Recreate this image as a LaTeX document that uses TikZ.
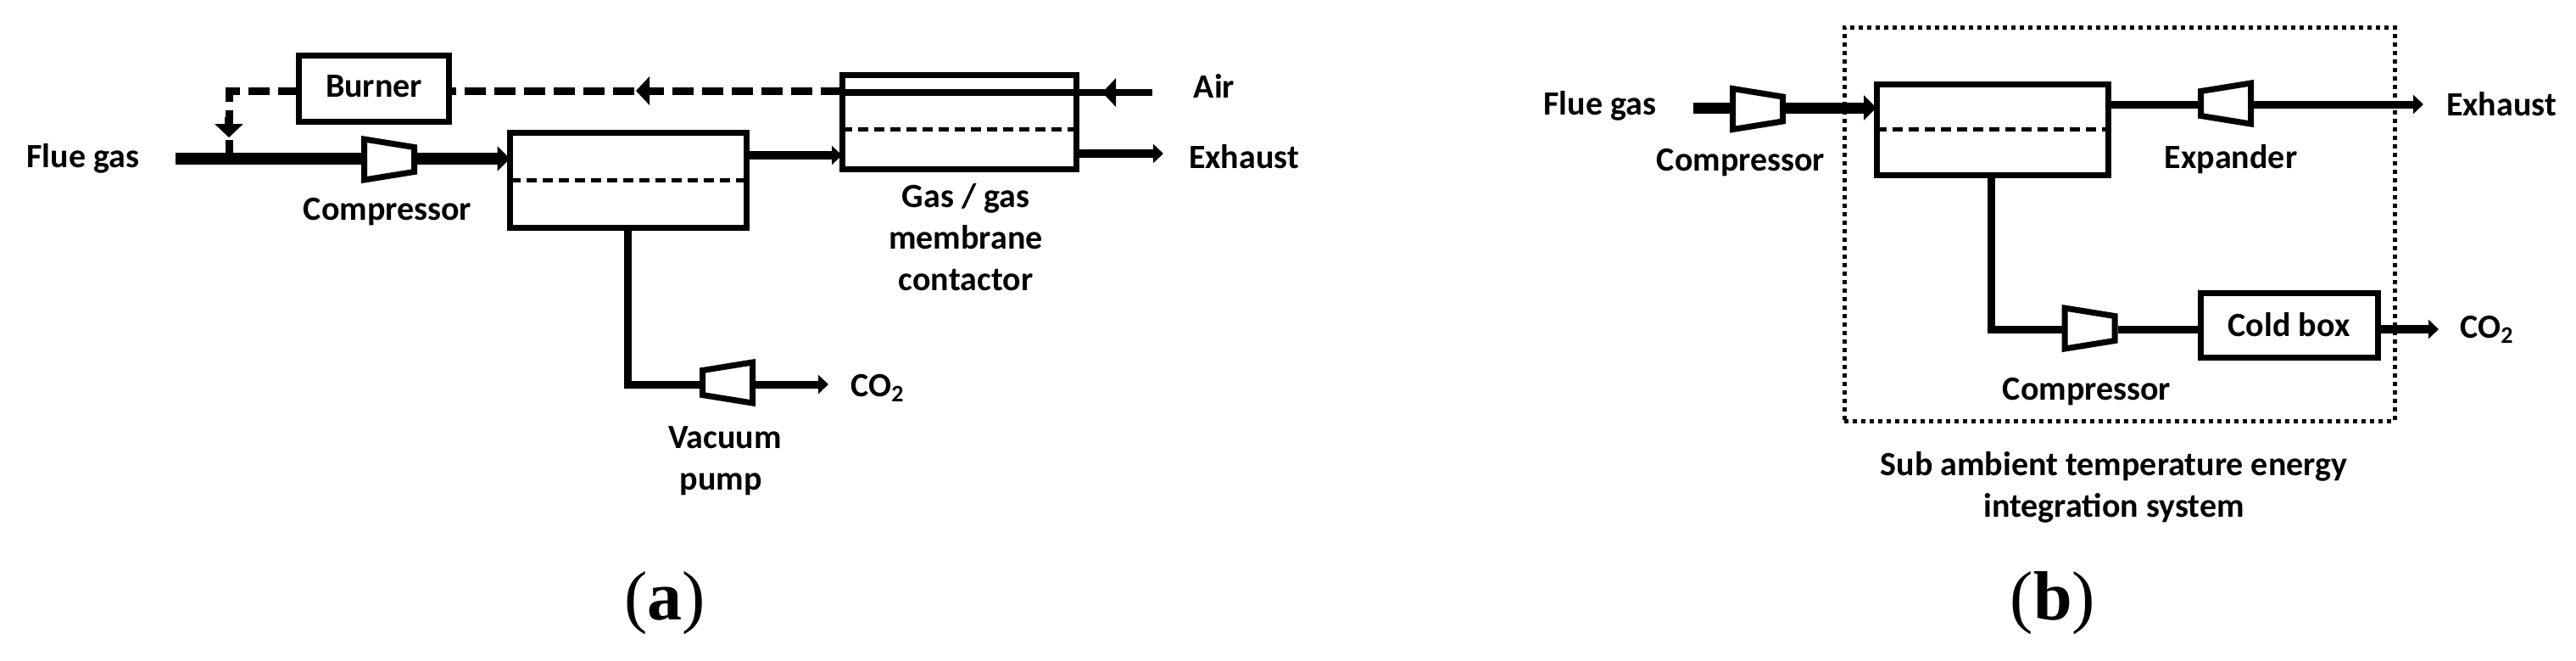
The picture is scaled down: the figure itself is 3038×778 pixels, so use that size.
\documentclass[tikz,border=0pt]{standalone}
\usepackage{fontspec}
\setmainfont{Carlito}
\newfontfamily\capfont{Liberation Serif}
\usetikzlibrary{arrows.meta,calc}
% one reference pixel = 0.5pt
\newcommand{\lblsize}{\fontsize{20pt}{24.5pt}\selectfont\bfseries}
\tikzset{
  unit/.style={draw=black,line width=3.5pt,minimum height=#1,inner sep=0pt,outer sep=0pt,font=\lblsize},
  lbl/.style={inner sep=0pt,outer sep=0pt,anchor=base,font=\lblsize,align=center},
  caplbl/.style={inner sep=0pt,outer sep=0pt,anchor=base,font=\capfont\fontsize{41pt}{41pt}\selectfont},
  pipe/.style={draw=black,line width=#1,line cap=butt},
  tipA/.style={-{Triangle[length=7.5pt,width=14.5pt]}},
  tipB/.style={-{Triangle[length=6pt,width=11pt]}},
  tipC/.style={-{Triangle[length=8pt,width=16.5pt]}},
  recycle/.style={draw=black,line width=4.5pt,dash pattern=on 12.5pt off 5pt},
  membrane/.style={draw=black,line width=2.5pt,dash pattern=on 6pt off 3.5pt},
  boundary/.style={draw=black,line width=2.5pt,dash pattern=on 2.5pt off 2.5pt,inner sep=0pt,outer sep=0pt},
  machine/.style={minimum width=33pt,minimum height=28pt,inner sep=0pt,outer sep=0pt},
  machineline/.style={draw=black,line width=3.5pt,fill=white,line join=miter},
}
% #1 name, #2 centre: wide side on the left
\newcommand{\wideleft}[2]{%
  \node[machine] (#1) at (#2) {};
  \draw[machineline] ([shift={(-14.75pt,12pt)}]#1.center) -- ([shift={(14.75pt,7.25pt)}]#1.center)
    -- ([shift={(14.75pt,-7.25pt)}]#1.center) -- ([shift={(-14.75pt,-12pt)}]#1.center) -- cycle;}
% #1 name, #2 centre: wide side on the right
\newcommand{\wideright}[2]{%
  \node[machine] (#1) at (#2) {};
  \draw[machineline] ([shift={(14.75pt,12pt)}]#1.center) -- ([shift={(-14.75pt,7.25pt)}]#1.center)
    -- ([shift={(-14.75pt,-7.25pt)}]#1.center) -- ([shift={(14.75pt,-12pt)}]#1.center) -- cycle;}
\begin{document}
\begin{tikzpicture}[x=0.5pt,y=-0.5pt]
\useasboundingbox[fill=white] (0,0) rectangle (3038,778);

%%%%% panel (a)
\node[unit=39pt,minimum width=88.5pt,text depth=3pt] (burner) at (441,104.5) {Burner};
\node[unit=56pt,minimum width=139.5pt] (m1) at (741,212.5) {};
\node[unit=55.5pt,minimum width=138pt] (m2) at (1131,143.5) {};
\draw[membrane] (m1.west) -- (m1.east);
\draw[membrane] ([yshift=-4.25pt]m2.west) -- ([yshift=-4.25pt]m2.east);
\wideleft{c1}{459,188}
\wideright{vp}{858,451}

\coordinate (fluein) at (207,187);
\coordinate (airin) at (1359,109);
\coordinate (recy) at (1000,107);
\coordinate (bend) at (270,107);
\coordinate (m1out) at (884,183);
\coordinate (exout) at (1372,181);
\coordinate (vpbend) at (740,453);
\coordinate (co2a) at (977,453);

\draw[pipe=7pt] (fluein) -- (fluein -| c1.west);
\draw[pipe=7pt,tipA] (fluein -| c1.east) -- (fluein -| m1.west);
\draw[pipe=5pt,tipB] (m1out) -- (m1out -| m2.west);
\draw[pipe=5pt,tipB] (exout -| m2.east) -- (exout);
\draw[pipe=4pt] (airin) -- (airin -| m2.west);
\draw[pipe=4pt,tipC] ($(airin)+(-43,0)$) -- ($(airin)+(-59,0)$);
\draw[recycle] (recy -| m2.west) -- (recy -| burner.east);
\draw[pipe=4pt,tipC] (766,107) -- (750,107);
\draw[recycle] (recy -| burner.west) -- (bend) -- (bend |- fluein);
\draw[pipe=5pt,tipC] (270,138) -- (270,162);
\draw[pipe=4.5pt] (vpbend |- m1.south) -- ([yshift=-2.25pt]vpbend) ;
\draw[pipe=4.5pt] ([xshift=-2.25pt]vpbend) -- (vpbend -| vp.west);
\draw[pipe=4.5pt,tipB] (vpbend -| vp.east) -- (co2a);

\node[lbl] (fluea) at (98,197) {Flue gas};
\node[lbl] (compa) at (457,259) {Compressor};
\node[lbl] (air) at (1432,115) {Air};
\node[lbl] (exa) at (1467,198) {Exhaust};
\node[lbl,anchor=north] (gas) at (1139,216) {Gas / gas\\[0pt]membrane\\contactor};
\node[lbl] (co2la) at (1035,467) {CO\textsubscript{2}};
\node[lbl,anchor=north] (vac) at (855,503) {Vacuum\\pump\kern5pt};
\node[caplbl] (capa) at (784,730) {(\textbf{a})};

%%%%% panel (b)
\node[boundary,minimum width=324.5pt,minimum height=232pt] (sys) at (2499.5,264) {};
\node[unit=53.5pt,minimum width=136.75pt] (m3) at (2349.75,152.5) {};
\node[unit=38pt,minimum width=104.5pt,text depth=1pt] (cold) at (2699.5,383) {Cold box};
\draw[membrane] (m3.west) -- (m3.east);
\wideleft{c2}{2073,128.5}
\wideright{ex}{2625,122}
\wideleft{c3}{2464.5,387}

\coordinate (fluebin) at (1997,127);
\coordinate (exb) at (2858,123);
\coordinate (bbend) at (2348,388);
\coordinate (co2b) at (2876,388);

\draw[pipe=6.5pt] (fluebin) -- (fluebin -| c2.west);
\draw[pipe=6.5pt,tipA] (fluebin -| c2.east) -- (fluebin -| m3.west);
\draw[pipe=4.5pt] (exb -| m3.east) -- (exb -| ex.west);
\draw[pipe=4.5pt,tipB] (exb -| ex.east) -- (exb);
\draw[pipe=4.5pt] (bbend |- m3.south) -- ([yshift=-2.25pt]bbend);
\draw[pipe=4.5pt] ([xshift=-2.25pt]bbend) -- (bbend -| c3.west);
\draw[pipe=4.5pt] (bbend -| c3.east) -- (bbend -| cold.west);
\draw[pipe=5pt,tipB] (co2b -| cold.east) -- (co2b);

\node[lbl] (flueb) at (1887,135) {Flue gas};
\node[lbl] (compb) at (2053,201) {Compressor};
\node[lbl] (expb) at (2631,198) {Expander};
\node[lbl] (exbl) at (2950,136) {Exhaust};
\node[lbl] (compc) at (2461,471) {Compressor};
\node[lbl] (co2lb) at (2933,398) {CO\textsubscript{2}};
\node[lbl,anchor=north] (subamb) at (2493,532) {Sub ambient temperature energy\\integration system};
\node[caplbl] (capb) at (2421,730) {(\textbf{b})};
\end{tikzpicture}
\end{document}
